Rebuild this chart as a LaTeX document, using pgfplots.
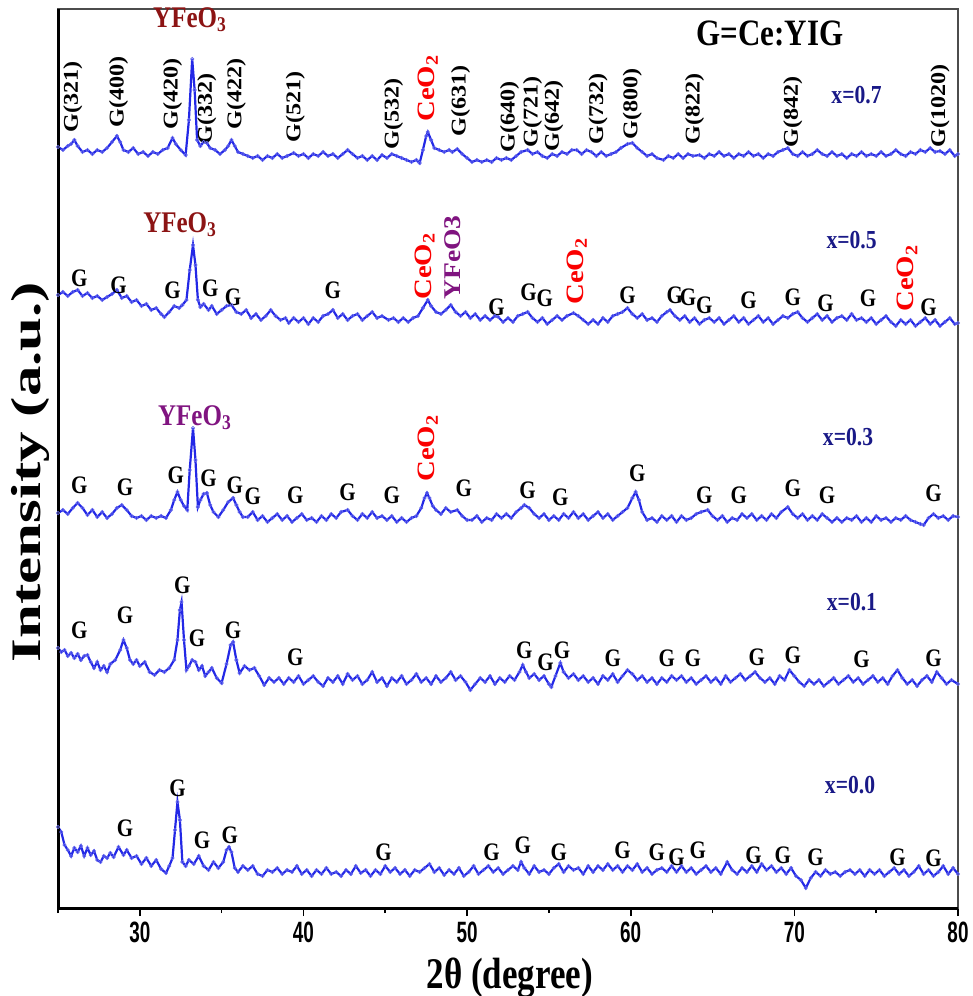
\documentclass[border=0pt]{standalone}
\usepackage{fontspec}
\setmainfont{Liberation Serif}
\setsansfont{Liberation Sans}
\usepackage{pgfplots}
\pgfplotsset{compat=1.18}

\definecolor{xrdblue}{RGB}{35,40,230}
\definecolor{lblnavy}{RGB}{25,25,135}
\definecolor{yfeored}{RGB}{140,20,20}
\definecolor{yfeopurple}{RGB}{128,20,128}
\definecolor{ceored}{RGB}{250,0,0}

% pattern values are read as pixel rows of the original figure (908 = x axis)
\pgfplotsset{
  xrd/.style={color=xrdblue, line width=1.1pt, mark=o, mark size=0.8pt,
    mark options={line width=0.4pt, draw=xrdblue!70}, y filter/.expression={908-y}},
}
% a row of "G" peak labels, list of x/y pairs
\newcommand\Gmarks[1]{%
  \foreach \gx/\gy in {#1}{%
    \edef\tmp{\noexpand\node[gl] at (axis cs:\gx,\gy) {G};}\tmp}}

\begin{document}
\begin{tikzpicture}[
  gl/.style={font=\fontsize{10.5}{12}\selectfont\bfseries, yscale=1.2, inner sep=0pt},
  rl/.style={font=\fontsize{10.5}{12}\selectfont\bfseries, yscale=1.15, rotate=90,
    anchor=west, inner sep=0pt},
  sl/.style={font=\fontsize{10.8}{12}\selectfont\bfseries, yscale=1.2, text=lblnavy, inner sep=0pt},
]
\useasboundingbox (-29pt,-44pt) rectangle (457.5pt,454pt);
\begin{axis}[
  width=450pt, height=449.5pt, scale only axis,
  xmin=25, xmax=80, ymin=0, ymax=899,
  xtick={30,40,...,80}, minor xtick={25,35,...,75},
  ytick=\empty,
  xtick pos=left, tick align=outside,
  major tick length=4pt, minor tick length=2.5pt,
  every tick/.style={black, line width=0.8pt},
  axis line style={black!70, line width=0.6pt},
  xticklabel style={font=\fontsize{10.5}{12}\selectfont\bfseries\sffamily, yscale=1.4, xscale=0.9, yshift=1.5pt},
  /pgf/number format/assume math mode=true,
  clip=false,
]
% x=0.0
\addplot[xrd] table[row sep=\\] {x y\\
25.0 827\\ 25.2 832\\ 25.4 845\\ 25.6 850\\ 25.8 856\\ 26.0 848\\ 26.2 852\\ 26.4 846\\ 26.6 856\\ 26.8 848\\
27.0 855\\ 27.2 851\\ 27.4 860\\ 27.6 862\\ 27.8 856\\ 28.0 858\\ 28.2 853\\ 28.4 857\\ 28.7 847\\ 29.0 855\\
29.2 850\\ 29.5 858\\ 29.8 856\\ 30.1 864\\ 30.4 858\\ 30.7 866\\ 31.0 860\\ 31.3 869\\ 31.6 873\\ 31.8 866\\
32.0 858\\ 32.15 830\\ 32.3 802\\ 32.45 820\\ 32.6 862\\ 32.8 866\\ 33.0 860\\ 33.3 864\\ 33.6 856\\ 33.9 866\\
34.2 870\\ 34.5 862\\ 34.8 868\\ 35.1 862\\ 35.3 850\\ 35.45 847\\ 35.6 852\\ 35.8 868\\ 36.0 872\\ 36.3 866\\
36.6 870\\ 36.9 866\\ 37.2 874\\ 37.5 876\\ 37.8 870\\ 38.1 872\\ 38.4 868\\ 38.7 874\\ 39.0 870\\ 39.3 872\\
39.6 866\\ 39.9 874\\ 40.2 870\\ 40.5 876\\ 40.8 870\\ 41.1 874\\ 41.4 868\\ 41.7 874\\ 42.0 872\\ 42.3 876\\
42.6 870\\ 42.9 874\\ 43.2 866\\ 43.5 873\\ 43.8 870\\ 44.1 876\\ 44.4 870\\ 44.7 874\\ 45.0 866\\ 45.3 872\\
45.6 868\\ 45.9 874\\ 46.2 870\\ 46.5 876\\ 46.8 870\\ 47.1 872\\ 47.4 868\\ 47.7 864\\ 48.0 872\\ 48.3 868\\
48.6 875\\ 48.9 870\\ 49.2 874\\ 49.5 868\\ 49.8 876\\ 50.1 872\\ 50.4 866\\ 50.7 874\\ 51.0 870\\ 51.3 866\\
51.6 872\\ 51.9 868\\ 52.2 874\\ 52.5 870\\ 52.8 866\\ 53.1 870\\ 53.3 862\\ 53.5 868\\ 53.8 874\\ 54.1 866\\
54.4 872\\ 54.7 870\\ 55.0 874\\ 55.3 868\\ 55.6 864\\ 55.9 872\\ 56.2 866\\ 56.5 870\\ 56.8 868\\ 57.1 874\\
57.4 866\\ 57.7 872\\ 58.0 866\\ 58.3 870\\ 58.6 864\\ 58.9 870\\ 59.2 866\\ 59.5 872\\ 59.8 866\\ 60.1 870\\
60.4 864\\ 60.7 872\\ 61.0 868\\ 61.3 874\\ 61.6 870\\ 61.9 868\\ 62.2 872\\ 62.5 866\\ 62.8 872\\ 63.1 866\\
63.4 872\\ 63.7 868\\ 64.0 874\\ 64.3 870\\ 64.6 866\\ 64.9 872\\ 65.2 868\\ 65.5 874\\ 65.9 862\\ 66.2 870\\
66.5 874\\ 66.8 868\\ 67.1 872\\ 67.4 866\\ 67.7 872\\ 68.0 864\\ 68.3 870\\ 68.6 866\\ 68.9 872\\ 69.2 868\\
69.5 874\\ 69.8 868\\ 70.1 876\\ 70.4 880\\ 70.7 888\\ 71.0 878\\ 71.3 872\\ 71.6 876\\ 71.9 870\\ 72.2 874\\
72.5 872\\ 72.8 876\\ 73.1 872\\ 73.4 870\\ 73.7 874\\ 74.0 870\\ 74.3 876\\ 74.6 870\\ 74.9 874\\ 75.2 870\\
75.5 876\\ 75.8 872\\ 76.1 868\\ 76.4 874\\ 76.7 870\\ 77.0 876\\ 77.3 872\\ 77.6 866\\ 77.9 874\\ 78.2 870\\
78.5 876\\ 78.8 872\\ 79.1 866\\ 79.4 874\\ 79.7 868\\ 80.0 874\\
};
% x=0.1
\addplot[xrd] table[row sep=\\] {x y\\
25.0 648\\ 25.2 652\\ 25.4 650\\ 25.6 656\\ 25.8 653\\ 26.0 658\\ 26.2 654\\ 26.4 660\\ 26.6 656\\ 26.8 655\\
27.0 662\\ 27.2 668\\ 27.4 662\\ 27.6 670\\ 27.8 666\\ 28.0 672\\ 28.2 664\\ 28.5 660\\ 28.8 650\\ 29.0 640\\
29.2 648\\ 29.4 660\\ 29.6 664\\ 29.8 660\\ 30.0 666\\ 30.3 662\\ 30.6 672\\ 30.9 675\\ 31.2 670\\ 31.5 672\\
31.8 668\\ 32.1 660\\ 32.3 640\\ 32.45 610\\ 32.55 602\\ 32.7 640\\ 32.85 670\\ 33.0 666\\ 33.2 660\\ 33.4 662\\
33.6 670\\ 33.8 666\\ 34.0 676\\ 34.2 672\\ 34.4 668\\ 34.7 678\\ 35.0 683\\ 35.3 664\\ 35.55 645\\ 35.7 642\\
35.9 660\\ 36.1 673\\ 36.4 666\\ 36.7 670\\ 37.0 668\\ 37.3 676\\ 37.6 685\\ 37.9 678\\ 38.2 682\\ 38.5 678\\
38.8 684\\ 39.1 678\\ 39.4 682\\ 39.7 676\\ 40.0 684\\ 40.3 680\\ 40.6 676\\ 40.9 682\\ 41.2 686\\ 41.5 678\\
41.8 682\\ 42.1 676\\ 42.4 684\\ 42.7 674\\ 43.0 680\\ 43.3 676\\ 43.6 684\\ 43.9 680\\ 44.2 672\\ 44.5 682\\
44.8 678\\ 45.1 686\\ 45.4 678\\ 45.7 682\\ 46.0 676\\ 46.3 684\\ 46.6 680\\ 46.9 674\\ 47.2 682\\ 47.5 678\\
47.8 684\\ 48.1 676\\ 48.4 682\\ 48.7 678\\ 49.0 672\\ 49.3 680\\ 49.6 676\\ 49.9 682\\ 50.2 690\\ 50.5 684\\
50.8 678\\ 51.1 682\\ 51.4 676\\ 51.7 684\\ 52.0 678\\ 52.3 682\\ 52.6 676\\ 52.9 680\\ 53.2 672\\ 53.4 665\\
53.6 672\\ 53.8 678\\ 54.1 674\\ 54.4 680\\ 54.7 676\\ 55.0 684\\ 55.15 687\\ 55.4 676\\ 55.7 663\\ 55.9 672\\
56.2 678\\ 56.5 674\\ 56.8 680\\ 57.1 676\\ 57.4 682\\ 57.7 678\\ 58.0 684\\ 58.3 676\\ 58.6 680\\ 58.9 674\\
59.2 682\\ 59.5 676\\ 59.8 670\\ 60.1 674\\ 60.4 680\\ 60.7 676\\ 61.0 682\\ 61.3 678\\ 61.6 684\\ 61.9 678\\
62.2 682\\ 62.5 676\\ 62.8 680\\ 63.1 676\\ 63.4 682\\ 63.7 678\\ 64.0 684\\ 64.3 680\\ 64.6 676\\ 64.9 682\\
65.2 678\\ 65.5 684\\ 65.8 676\\ 66.1 682\\ 66.4 678\\ 66.7 674\\ 67.0 680\\ 67.3 676\\ 67.6 672\\ 67.9 678\\
68.2 682\\ 68.5 678\\ 68.8 684\\ 69.1 676\\ 69.4 680\\ 69.7 670\\ 70.0 676\\ 70.3 682\\ 70.6 686\\ 70.9 680\\
71.2 684\\ 71.5 680\\ 71.8 686\\ 72.1 682\\ 72.4 678\\ 72.7 684\\ 73.0 680\\ 73.3 676\\ 73.6 682\\ 73.9 678\\
74.2 684\\ 74.5 680\\ 74.8 676\\ 75.1 682\\ 75.4 678\\ 75.7 684\\ 76.0 676\\ 76.3 670\\ 76.6 678\\ 76.9 684\\
77.2 680\\ 77.5 686\\ 77.8 680\\ 78.1 676\\ 78.4 682\\ 78.7 672\\ 79.0 678\\ 79.3 684\\ 79.6 680\\ 80.0 684\\
};
% x=0.3
\addplot[xrd] table[row sep=\\] {x y\\
25.0 513\\ 25.3 510\\ 25.6 514\\ 25.9 508\\ 26.2 503\\ 26.5 508\\ 26.8 515\\ 27.1 510\\ 27.4 517\\ 27.7 512\\
28.0 518\\ 28.3 514\\ 28.6 508\\ 28.9 505\\ 29.2 510\\ 29.5 516\\ 29.8 518\\ 30.1 516\\ 30.4 520\\ 30.7 516\\
31.0 518\\ 31.3 516\\ 31.6 518\\ 31.9 510\\ 32.1 500\\ 32.3 492\\ 32.5 500\\ 32.7 506\\ 32.9 510\\ 33.05 470\\
33.25 428\\ 33.4 460\\ 33.55 507\\ 33.7 500\\ 33.9 494\\ 34.1 493\\ 34.3 505\\ 34.5 512\\ 34.8 517\\ 35.1 510\\
35.4 502\\ 35.7 498\\ 35.9 505\\ 36.1 512\\ 36.3 517\\ 36.6 517\\ 36.9 512\\ 37.2 520\\ 37.5 516\\ 37.8 522\\
38.1 518\\ 38.4 514\\ 38.7 520\\ 39.0 516\\ 39.3 522\\ 39.6 518\\ 39.9 514\\ 40.2 520\\ 40.5 518\\ 40.8 522\\
41.1 516\\ 41.4 520\\ 41.7 514\\ 42.0 518\\ 42.3 512\\ 42.7 510\\ 43.0 516\\ 43.3 520\\ 43.6 514\\ 43.9 518\\
44.2 512\\ 44.5 518\\ 44.8 516\\ 45.1 520\\ 45.4 516\\ 45.7 522\\ 46.0 518\\ 46.3 522\\ 46.6 518\\ 46.9 516\\
47.2 508\\ 47.4 498\\ 47.55 493\\ 47.7 498\\ 47.9 506\\ 48.1 510\\ 48.4 514\\ 48.7 508\\ 49.0 512\\ 49.4 510\\
49.7 516\\ 50.0 520\\ 50.3 520\\ 50.6 516\\ 50.9 522\\ 51.2 518\\ 51.5 520\\ 51.8 514\\ 52.1 518\\ 52.4 514\\
52.7 518\\ 53.0 512\\ 53.3 508\\ 53.5 505\\ 53.8 508\\ 54.1 514\\ 54.4 518\\ 54.7 514\\ 55.0 520\\ 55.3 516\\
55.6 520\\ 55.9 514\\ 56.2 518\\ 56.5 512\\ 56.8 518\\ 57.1 514\\ 57.4 520\\ 57.7 516\\ 58.0 512\\ 58.3 518\\
58.6 514\\ 58.9 520\\ 59.2 516\\ 59.5 512\\ 59.8 508\\ 60.1 498\\ 60.3 492\\ 60.5 500\\ 60.7 512\\ 61.0 520\\
61.3 518\\ 61.6 522\\ 61.9 516\\ 62.2 520\\ 62.5 516\\ 62.8 522\\ 63.1 516\\ 63.4 520\\ 63.7 518\\ 64.0 514\\
64.3 512\\ 64.7 510\\ 65.0 516\\ 65.3 520\\ 65.6 516\\ 65.9 522\\ 66.2 518\\ 66.5 520\\ 66.8 514\\ 67.1 518\\
67.4 514\\ 67.7 520\\ 68.0 516\\ 68.3 520\\ 68.6 514\\ 68.9 518\\ 69.2 512\\ 69.6 507\\ 69.9 514\\ 70.2 518\\
70.5 514\\ 70.8 520\\ 71.1 516\\ 71.4 520\\ 71.7 514\\ 72.0 518\\ 72.3 522\\ 72.6 518\\ 72.9 522\\ 73.2 518\\
73.5 520\\ 73.8 516\\ 74.1 522\\ 74.4 518\\ 74.7 522\\ 75.0 516\\ 75.3 520\\ 75.6 518\\ 75.9 522\\ 76.2 518\\
76.5 520\\ 76.8 516\\ 77.1 520\\ 77.4 522\\ 77.7 524\\ 77.9 525\\ 78.2 518\\ 78.5 514\\ 78.8 518\\ 79.1 516\\
79.4 520\\ 79.7 516\\ 80.0 517\\
};
% x=0.5
\addplot[xrd] table[row sep=\\] {x y\\
25.0 295\\ 25.3 292\\ 25.6 296\\ 25.9 292\\ 26.2 290\\ 26.5 296\\ 26.8 293\\ 27.1 298\\ 27.4 296\\ 27.7 300\\
28.0 297\\ 28.3 294\\ 28.6 290\\ 28.9 298\\ 29.2 296\\ 29.5 302\\ 29.8 300\\ 30.1 306\\ 30.4 304\\ 30.7 310\\
31.0 308\\ 31.3 314\\ 31.5 317\\ 31.8 312\\ 32.1 306\\ 32.4 308\\ 32.6 305\\ 32.85 300\\ 33.05 270\\ 33.25 245\\
33.4 265\\ 33.55 300\\ 33.7 307\\ 33.9 304\\ 34.2 310\\ 34.4 306\\ 34.7 314\\ 35.0 310\\ 35.3 306\\ 35.6 305\\
35.9 312\\ 36.2 314\\ 36.5 310\\ 36.8 318\\ 37.1 314\\ 37.4 320\\ 37.7 316\\ 38.0 310\\ 38.3 316\\ 38.6 320\\
38.9 318\\ 39.1 323\\ 39.4 318\\ 39.7 322\\ 40.0 318\\ 40.3 324\\ 40.6 318\\ 40.9 322\\ 41.2 316\\ 41.5 314\\
41.8 310\\ 42.1 318\\ 42.4 314\\ 42.7 320\\ 43.0 316\\ 43.3 314\\ 43.6 320\\ 43.9 316\\ 44.2 312\\ 44.5 318\\
44.8 316\\ 45.2 320\\ 45.5 318\\ 45.8 322\\ 46.1 318\\ 46.4 322\\ 46.7 318\\ 47.0 316\\ 47.3 308\\ 47.6 300\\
47.8 306\\ 48.1 312\\ 48.4 314\\ 48.7 310\\ 49.0 305\\ 49.3 312\\ 49.6 316\\ 49.9 312\\ 50.2 318\\ 50.5 314\\
50.8 320\\ 51.1 316\\ 51.4 320\\ 51.7 316\\ 51.9 317\\ 52.2 322\\ 52.5 318\\ 52.8 322\\ 53.1 316\\ 53.4 314\\
53.7 312\\ 54.0 318\\ 54.3 322\\ 54.6 318\\ 54.9 324\\ 55.2 320\\ 55.5 316\\ 55.8 320\\ 56.1 316\\ 56.5 313\\
56.8 316\\ 57.1 320\\ 57.4 324\\ 57.7 320\\ 58.0 324\\ 58.3 318\\ 58.6 322\\ 58.9 316\\ 59.2 314\\ 59.5 312\\
59.8 308\\ 60.1 314\\ 60.4 318\\ 60.7 314\\ 61.0 320\\ 61.3 318\\ 61.6 322\\ 61.9 316\\ 62.2 312\\ 62.4 310\\
62.7 316\\ 63.0 320\\ 63.3 316\\ 63.6 322\\ 63.9 318\\ 64.2 324\\ 64.5 320\\ 64.8 318\\ 65.1 322\\ 65.4 318\\
65.7 324\\ 66.0 320\\ 66.3 316\\ 66.6 322\\ 66.9 318\\ 67.2 324\\ 67.5 320\\ 67.8 316\\ 68.1 322\\ 68.4 318\\
68.7 324\\ 69.0 320\\ 69.3 316\\ 69.6 318\\ 69.9 314\\ 70.2 312\\ 70.5 318\\ 70.8 322\\ 71.1 318\\ 71.4 314\\
71.7 320\\ 72.0 316\\ 72.3 322\\ 72.6 318\\ 72.9 316\\ 73.2 320\\ 73.5 314\\ 73.8 320\\ 74.1 318\\ 74.4 322\\
74.7 318\\ 75.0 324\\ 75.3 320\\ 75.6 316\\ 75.9 322\\ 76.2 326\\ 76.5 320\\ 76.8 324\\ 77.1 320\\ 77.4 326\\
77.7 322\\ 78.0 318\\ 78.3 324\\ 78.6 320\\ 78.9 326\\ 79.2 322\\ 79.5 318\\ 79.8 324\\ 80.0 323\\
};
% x=0.7
\addplot[xrd] table[row sep=\\] {x y\\
25.0 147\\ 25.3 150\\ 25.6 146\\ 25.8 144\\ 26.0 140\\ 26.2 146\\ 26.5 152\\ 26.8 150\\ 27.1 154\\ 27.4 150\\
27.7 152\\ 28.0 148\\ 28.3 142\\ 28.6 136\\ 28.8 142\\ 29.0 150\\ 29.3 152\\ 29.6 148\\ 29.9 154\\ 30.2 152\\
30.5 156\\ 30.8 152\\ 31.1 154\\ 31.4 150\\ 31.7 148\\ 32.0 138\\ 32.2 144\\ 32.5 150\\ 32.8 155\\ 33.0 120\\
33.2 59\\ 33.35 90\\ 33.5 140\\ 33.7 146\\ 33.9 142\\ 34.1 143\\ 34.3 148\\ 34.6 150\\ 34.9 154\\ 35.2 150\\
35.4 146\\ 35.6 140\\ 35.8 146\\ 36.0 152\\ 36.3 154\\ 36.6 156\\ 36.9 158\\ 37.2 156\\ 37.5 160\\ 37.8 156\\
38.1 158\\ 38.4 154\\ 38.7 158\\ 39.0 156\\ 39.4 153\\ 39.7 156\\ 40.0 154\\ 40.3 158\\ 40.6 154\\ 40.9 156\\
41.2 152\\ 41.5 156\\ 41.8 154\\ 42.1 158\\ 42.4 154\\ 42.7 150\\ 43.0 154\\ 43.3 158\\ 43.6 156\\ 43.9 160\\
44.2 156\\ 44.5 160\\ 44.8 155\\ 45.1 158\\ 45.4 154\\ 45.7 156\\ 46.0 158\\ 46.3 160\\ 46.6 162\\ 46.9 160\\
47.1 163\\ 47.3 150\\ 47.5 136\\ 47.6 132\\ 47.8 140\\ 48.0 148\\ 48.3 150\\ 48.6 152\\ 48.9 150\\ 49.1 152\\
49.4 149\\ 49.7 154\\ 50.0 158\\ 50.3 162\\ 50.6 160\\ 50.9 162\\ 51.2 160\\ 51.5 162\\ 51.8 158\\ 52.1 160\\
52.4 158\\ 52.7 160\\ 53.0 156\\ 53.3 152\\ 53.7 150\\ 54.0 154\\ 54.3 152\\ 54.6 156\\ 54.9 158\\ 55.2 154\\
55.5 156\\ 55.8 152\\ 56.1 154\\ 56.4 150\\ 56.7 150\\ 57.0 154\\ 57.3 150\\ 57.6 152\\ 57.9 156\\ 58.2 152\\
58.5 156\\ 58.8 154\\ 59.1 152\\ 59.4 148\\ 59.8 144\\ 60.1 143\\ 60.4 148\\ 60.7 152\\ 61.0 156\\ 61.3 154\\
61.6 158\\ 62.0 160\\ 62.3 156\\ 62.6 158\\ 62.9 154\\ 63.2 158\\ 63.5 154\\ 63.8 156\\ 64.2 155\\ 64.5 158\\
64.8 154\\ 65.1 156\\ 65.4 152\\ 65.7 156\\ 66.0 154\\ 66.3 158\\ 66.6 154\\ 66.9 156\\ 67.2 152\\ 67.5 156\\
67.8 154\\ 68.1 158\\ 68.4 154\\ 68.7 156\\ 69.0 152\\ 69.3 150\\ 69.6 148\\ 69.9 154\\ 70.2 156\\ 70.5 152\\
70.8 156\\ 71.1 154\\ 71.4 150\\ 71.7 154\\ 72.0 156\\ 72.3 152\\ 72.6 156\\ 72.9 154\\ 73.2 158\\ 73.5 154\\
73.8 156\\ 74.1 152\\ 74.4 156\\ 74.7 154\\ 75.0 156\\ 75.3 152\\ 75.6 156\\ 75.9 154\\ 76.2 150\\ 76.5 154\\
76.8 156\\ 77.1 152\\ 77.4 154\\ 77.7 150\\ 78.0 152\\ 78.3 148\\ 78.6 152\\ 78.9 151\\ 79.2 154\\ 79.5 150\\
79.8 156\\ 80.0 154\\
};

% heavy left and bottom spines
\draw[black, line width=1.5pt] (axis cs:25,899) -- (axis cs:25,0) -- (axis cs:80,0);

% ---- x=0.7 annotations
\node[font=\fontsize{12.5}{14}\selectfont\bfseries, yscale=1.2, text=yfeored] at (axis cs:33.07,888) {YFeO\textsubscript{3}};
\node[font=\fontsize{15.5}{17}\selectfont\bfseries, yscale=1.2] at (axis cs:68.5,875) {G=Ce:YIG};
\node[sl] at (axis cs:73.8,813) {x=0.7};
\node[rl] at (axis cs:25.9,775) {G(321)};
\node[rl] at (axis cs:28.7,780) {G(400)};
\node[rl] at (axis cs:32.0,778) {G(420)};
\node[rl] at (axis cs:34.1,763) {G(332)};
\node[rl] at (axis cs:35.9,778) {G(422)};
\node[rl] at (axis cs:39.5,765) {G(521)};
\node[rl] at (axis cs:45.5,758) {G(532)};
\node[rl, font=\fontsize{12.5}{14}\selectfont\bfseries, text=ceored] at (axis cs:47.6,786) {CeO\textsubscript{2}};
\node[rl] at (axis cs:49.6,771) {G(631)};
\node[rl] at (axis cs:52.6,755) {G(640)};
\node[rl] at (axis cs:54.0,760) {G(721)};
\node[rl] at (axis cs:55.3,756) {G(642)};
\node[rl] at (axis cs:58.0,763) {G(732)};
\node[rl] at (axis cs:60.1,768) {G(800)};
\node[rl] at (axis cs:63.9,763) {G(822)};
\node[rl] at (axis cs:69.9,760) {G(842)};
\node[rl] at (axis cs:78.9,760) {G(1020)};

% ---- x=0.5 annotations
\node[font=\fontsize{12.5}{14}\selectfont\bfseries, yscale=1.2, text=yfeored] at (axis cs:32.46,683) {YFeO\textsubscript{3}};
\node[sl] at (axis cs:73.5,668) {x=0.5};
\Gmarks{26.3/630, 28.7/623, 32.0/618, 34.3/620, 35.7/611, 41.8/618,
    51.8/601, 53.75/616, 54.75/610, 59.8/613, 62.7/613, 63.5/611, 64.5/603,
    67.2/608, 69.9/611, 71.9/605, 74.5/610, 78.2/601}
\node[rl, font=\fontsize{12.5}{14}\selectfont\bfseries, text=ceored] at (axis cs:47.4,608) {CeO\textsubscript{2}};
\node[rl, font=\fontsize{12}{14}\selectfont\bfseries, text=yfeopurple] at (axis cs:49.1,608) {YFeO3};
\node[rl, font=\fontsize{12.5}{14}\selectfont\bfseries, text=ceored] at (axis cs:56.7,603) {CeO\textsubscript{2}};
\node[rl, font=\fontsize{12.5}{14}\selectfont\bfseries, text=ceored] at (axis cs:76.9,596) {CeO\textsubscript{2}};

% ---- x=0.3 annotations
\node[font=\fontsize{12.5}{14}\selectfont\bfseries, yscale=1.2, text=yfeopurple] at (axis cs:33.37,490) {YFeO\textsubscript{3}};
\node[sl] at (axis cs:73.28,471) {x=0.3};
\Gmarks{26.3/423, 29.1/421, 32.2/433, 34.2/430, 35.8/423, 36.9/412,
    39.5/413, 42.7/416, 45.4/413, 49.8/420, 53.7/418, 55.7/411, 60.4/435,
    64.5/413, 66.6/413, 69.9/420, 72.0/413, 78.5/415}
\node[rl, font=\fontsize{12.5}{14}\selectfont\bfseries, text=ceored] at (axis cs:47.6,426) {CeO\textsubscript{2}};

% ---- x=0.1 annotations
\node[sl] at (axis cs:73.52,306) {x=0.1};
\Gmarks{26.3/278, 29.1/293, 32.6/323, 33.5/270, 35.7/278, 39.5/251,
    53.5/258, 54.8/246, 55.8/258, 58.9/250, 62.2/250, 63.8/250, 67.7/251,
    69.9/253, 74.1/249, 78.5/250}

% ---- x=0.0 annotations
\node[sl] at (axis cs:73.4,123) {x=0.0};
\Gmarks{29.1/80, 32.3/120, 33.8/68, 35.5/73, 44.9/56, 51.5/56,
    53.4/63, 55.6/56, 59.5/58, 61.6/56, 62.8/51, 64.1/58, 67.5/53, 69.3/53,
    71.3/51, 76.3/51, 78.5/50}
\end{axis}

% axis titles
\node[font=\fontsize{17.5}{20}\selectfont\bfseries, yscale=1.25] at (226pt,-35pt) {2θ (degree)};
\node[font=\fontsize{21}{24}\selectfont\bfseries, yscale=1.45, rotate=90] at (-14pt,218pt) {Intensity (a.u.)};
\end{tikzpicture}
\end{document}
